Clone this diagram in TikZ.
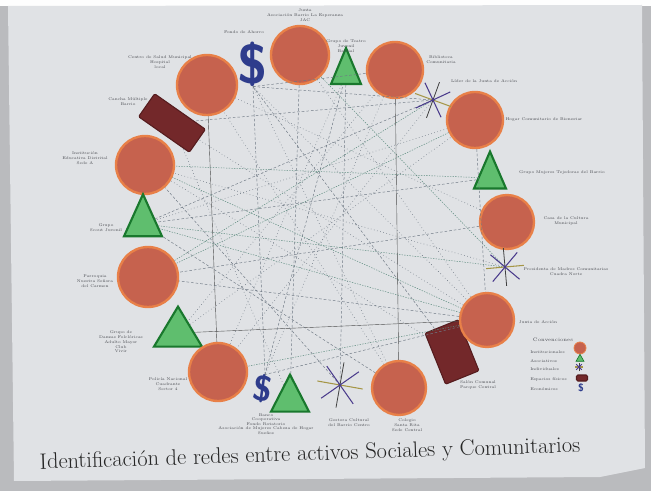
\documentclass[tikz,border=0pt]{standalone}
\usepackage{tikz}
\usetikzlibrary{shapes,shapes.geometric}
\usetikzlibrary{calc}
\definecolor{papel}{RGB}{224,226,229}
\definecolor{fondo}{RGB}{186,187,190}
\definecolor{rojoactivo}{RGB}{198,98,78}
\definecolor{bordeactivo}{RGB}{232,128,72}
\definecolor{verdegrupo}{RGB}{95,190,110}
\definecolor{bordegrupo}{RGB}{25,120,45}
\definecolor{granate}{RGB}{115,40,42}
\definecolor{bordegranate}{RGB}{85,28,30}
\definecolor{azulpeso}{RGB}{46,60,140}
\definecolor{violeta}{RGB}{75,60,140}
\definecolor{oliva}{RGB}{165,150,70}
\definecolor{lineagris}{RGB}{110,120,132}
\definecolor{lineaverde}{RGB}{90,138,125}
\definecolor{tinta}{RGB}{70,72,78}
\def\px{0.2667mm}

\begin{document}
\begin{tikzpicture}[x=\px,y=-\px,
	activo/.style={circle,draw=bordeactivo,line width=1.8pt,fill=rojoactivo,inner sep=0pt},
	grupo/.style={isosceles triangle,isosceles triangle stretches,shape border rotate=90,draw=bordegrupo,line width=1.6pt,fill=verdegrupo,inner sep=0pt},
	espacio/.style={rectangle,draw=bordegranate,line width=0.8pt,fill=granate,rounded corners=1pt,inner sep=0pt},
	peso/.style={text=azulpeso,font=\sffamily\bfseries,inner sep=0pt},
	nota/.style={text=tinta,font=\fontsize{3}{3.6}\selectfont,align=center,inner sep=0pt},
	red/.style={lineagris,line width=0.35pt,dash pattern=on 2pt off 1.5pt},
	redp/.style={lineagris,line width=0.45pt,dotted},
	redv/.style={lineaverde,line width=0.35pt,dash pattern=on 1pt off 1pt},
	redl/.style={black!70,line width=0.3pt},
	estrella/.pic={
		\draw[oliva,line width=0.8pt] (0:#1) -- (180:#1);
		\draw[violeta,line width=0.8pt] (45:#1) -- (225:#1);
		\draw[black!75,line width=0.6pt] (90:#1) -- (270:#1);
		\draw[violeta,line width=0.8pt] (135:#1) -- (315:#1);
		\fill[violeta] (0,0) circle (1.5);
	}]
	\useasboundingbox (0,0) rectangle (651,491);
	\fill[fondo] (0,0) rectangle (651,491);
	\fill[white!96!papel] (0,0) rectangle (651,6);
	\fill[papel] (8,6) -- (642,5) -- (645,468) -- (600,477) -- (14,481) -- cycle;

	% activos
	\node[activo,minimum size=58*\px] (c1) at (300,55) {};
	\node[peso,font=\sffamily\bfseries\fontsize{42}{42}\selectfont] (d1) at (253,64) {\$};
	\node[activo,minimum size=60*\px] (c2) at (207,85) {};
	\node[espacio,minimum width=62*\px,minimum height=28*\px,rotate=-35] (r1) at (172,123) {};
	\node[activo,minimum size=58*\px] (c3) at (145,165) {};
	\node[grupo,minimum width=38*\px,minimum height=42*\px] (t1) at (143,224) {};
	\node[activo,minimum size=60*\px] (c4) at (148,277) {};
	\node[grupo,minimum width=48*\px,minimum height=40*\px] (t2) at (178,333) {};
	\node[activo,minimum size=58*\px] (c5) at (218,372) {};
	\node[peso,font=\sffamily\bfseries\fontsize{27}{27}\selectfont,rotate=-8] (d2) at (263,389) {\$};
	\node[grupo,minimum width=38*\px,minimum height=37*\px] (t3) at (290,400) {};
	\coordinate (s1) at (340,385);
	\node[activo,minimum size=54*\px] (c6) at (399,388) {};
	\node[espacio,minimum width=36*\px,minimum height=55*\px,rotate=22] (r2) at (452,352) {};
	\node[activo,minimum size=54*\px] (c7) at (487,320) {};
	\coordinate (s2) at (505,267);
	\node[activo,minimum size=54*\px] (c8) at (507,222) {};
	\node[grupo,minimum width=32*\px,minimum height=37*\px] (t4) at (490,178) {};
	\node[activo,minimum size=56*\px] (c9) at (475,120) {};
	\coordinate (s3) at (433,100);
	\node[activo,minimum size=56*\px] (c10) at (395,70) {};
	\node[grupo,minimum width=30*\px,minimum height=36*\px] (t5) at (346,74) {};

	% redes
	\draw[red] (d1.south) -- (c10);
	\draw[red] (d1.south) -- (s3);
	\draw[red] (d1.south) -- (d2.north);
	\draw[redp] (d1.south) -- (c7);
	\draw[redp] (d1.south) -- (c6);
	\draw[red] (d1.south) -- (r2);
	\draw[red] (c1) -- (t3);
	\draw[redp] (c1) -- (c7);
	\draw[redv] (c1) -- (s2);
	\draw[redl] (c2) -- (c5);
	\draw[redp] (c2) -- (c8);
	\draw[redl] (c10) -- (c6);
	\draw[redp] (c10) -- (t2);
	\draw[redp] (c10) -- (d2.north);
	\draw[redp] (t5) -- (c5);
	\draw[red] (t5) -- (s1);
	\draw[redp] (s3) -- (c5);
	\draw[red] (s3) -- (t1);
	\draw[red] (s3) -- (r1);
	\draw[red] (c9) -- (c7);
	\draw[redp] (c9) -- (t1);
	\draw[redv] (c9) -- (c4);
	\draw[red] (t4) -- (t1);
	\draw[redv] (t4) -- (c3);
	\draw[red] (c8) -- (c4);
	\draw[redv] (s2) -- (t1);
	\draw[redp] (s2) -- (c3);
	\draw[redl] (c7) -- (t2);
	\draw[red] (c7) -- (c4);
	\draw[redv] (c7) -- (t1);
	\draw[red] (c7) -- (d2.north);
	\draw[redv] (c7) -- (c5);
	\draw[redp] (c7) -- (r1);
	\draw[redv] (c7) -- (c3);
	\draw[redp] (r2) -- (c3);
	\draw[redp] (c6) -- (c2);
	\draw[red] (s1) -- (c3);
	\draw[redp] (t3) -- (r1);
	\draw[redp] (t2) -- (c9);
	\draw[red] (d2.north) -- (t5);
	\draw[red] (t1) -- (c6);
	\draw[redv] (c4) -- (s3);

	\pic[rotate=-10] at (s1) {estrella=23};
	\pic[rotate=5] at (s2) {estrella=19};
	\pic[rotate=-20] at (s3) {estrella=19};

	% nombres
	\node[nota] at (305,15) {Junta\\Asociaci\'on Barrio La Esperanza\\JAC};
	\node[nota] at (244,32) {Fondo de Ahorro};
	\node[nota] at (160,62) {Centro de Salud Municipal\\Hospital\\local};
	\node[nota] at (346,46) {Grupo de Teatro\\Juvenil\\Barrial};
	\node[nota] at (441,60) {Biblioteca\\Comunitaria};
	\node[nota] at (484,81) {L\'ider de la Junta de Acci\'on};
	\node[nota] at (544,120) {Hogar Comunitario de Bienestar};
	\node[nota] at (562,173) {Grupo Mujeres Tejedoras del Barrio};
	\node[nota] at (566,221) {Casa de la Cultura\\Municipal};
	\node[nota] at (566,272) {Presidenta de Madres Comunitarias\\Cuadra Norte};
	\node[nota] at (538,322) {Junta de Acci\'on};
	\node[nota] at (478,385) {Sal\'on Comunal\\Parque Central};
	\node[nota] at (407,425) {Colegio\\Santa Rita\\Sede Central};
	\node[nota] at (349,423) {Gestora Cultural\\del Barrio Centro};
	\node[nota,font=\fontsize{3}{3.3}\selectfont] at (266,424) {Banco\\Cooperativa\\Fondo Rotatorio\\Asociaci\'on de Mujeres Cabeza de Hogar\\Sue\~nos};
	\node[nota] at (168,384) {Polic\'ia Nacional\\Cuadrante\\Sector 4};
	\node[nota] at (121,342) {Grupo de\\Danzas Folcl\'oricas\\Adulto Mayor\\Club\\Vivir};
	\node[nota] at (95,281) {Parroquia\\Nuestra Se\~nora\\del Carmen};
	\node[nota] at (106,228) {Grupo\\Scout Juvenil};
	\node[nota] at (85,158) {Instituci\'on\\Educativa Distrital\\Sede A};
	\node[nota] at (128,102) {Cancha M\'ultiple\\Barrio};

	% convenciones
	\node[nota,font=\fontsize{3.8}{4}\selectfont] (conv) at (553,340) {Convenciones};
	\node[nota,anchor=west] (l1) at (530,352) {Institucionales};
	\node[nota,anchor=west] (l2) at (530,361) {Asociativos};
	\node[nota,anchor=west] (l3) at (530,369) {Individuales};
	\node[nota,anchor=west] (l4) at (530,379) {Espacios f\'isicos};
	\node[nota,anchor=west] (l5) at (530,389) {Econ\'omicos};
	\node[activo,minimum size=12*\px,line width=0.6pt] (m1) at (580,348) {};
	\node[grupo,minimum width=8*\px,minimum height=7*\px,line width=0.5pt] (m2) at (580,359) {};
	\pic at (579,367) {estrella=4};
	\node[espacio,minimum width=11*\px,minimum height=6*\px] (m4) at (582,378) {};
	\node[peso,font=\sffamily\bfseries\fontsize{8}{8}\selectfont] (m5) at (581,388) {\$};

	\node[font=\fontsize{17}{17}\selectfont,text=black!85,rotate=1.8] (titulo) at (310,455) {Identificaci\'on de redes entre activos Sociales y Comunitarios};
\end{tikzpicture}
\end{document}
